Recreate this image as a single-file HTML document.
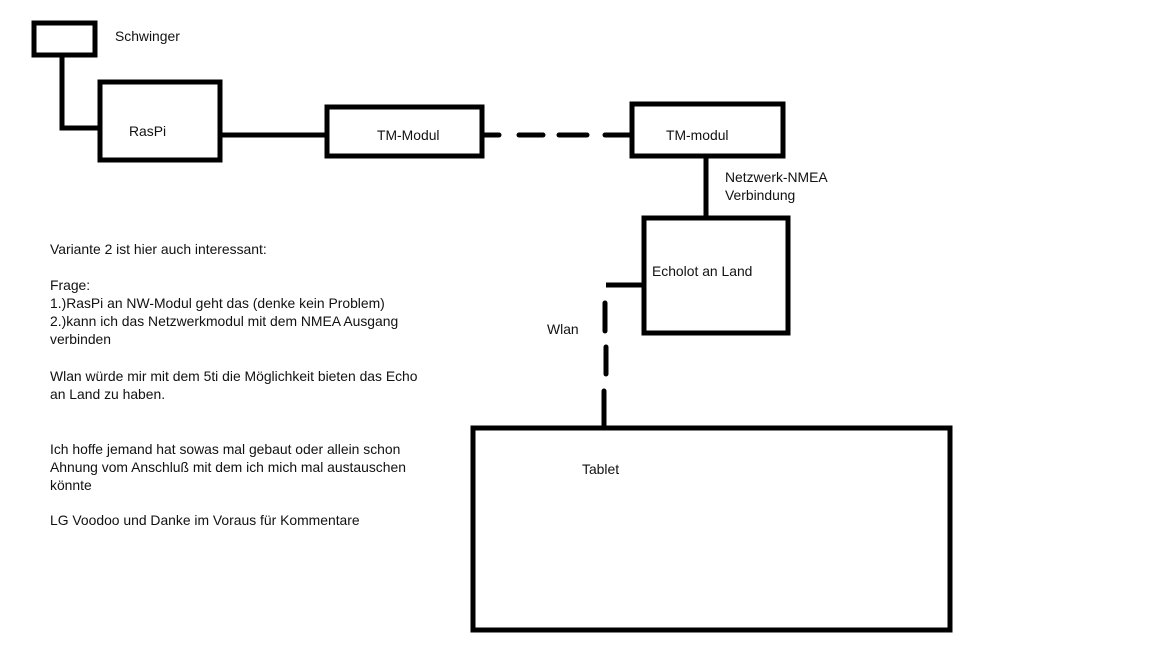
<!DOCTYPE html>
<html><head><meta charset="utf-8"><style>
html,body{margin:0;padding:0;background:#fff;}
body{width:1152px;height:648px;position:relative;overflow:hidden;font-family:"Liberation Sans",sans-serif;font-size:13.9px;color:#111;}
.t{position:absolute;line-height:18px;white-space:nowrap;}
svg{position:absolute;left:0;top:0;}
</style></head><body>
<svg width="1152" height="648" viewBox="0 0 1152 648">
<g fill="none" stroke="#000" stroke-width="5">
<rect x="34" y="23" width="61" height="32"/>
<rect x="100" y="82" width="120" height="78"/>
<rect x="327" y="107" width="155" height="49"/>
<rect x="632" y="104" width="151" height="52"/>
<rect x="644" y="218" width="144" height="115"/>
<rect x="473" y="428" width="477" height="202"/>
<polyline points="62,55 62,128 100,128"/>
<line x1="218" y1="135" x2="327" y2="135"/>
<line x1="706" y1="156" x2="706" y2="220"/>
<line x1="606" y1="285" x2="644" y2="285"/>
</g>
<g stroke="#000" stroke-width="5" stroke-linecap="round">
<line x1="484" y1="135" x2="499" y2="135"/>
<line x1="519" y1="135" x2="543" y2="135"/>
<line x1="559" y1="135" x2="587" y2="135"/>
<line x1="605" y1="135" x2="630" y2="135"/>
<line x1="605" y1="303" x2="605" y2="331"/>
<line x1="606" y1="347" x2="606" y2="374"/>
<line x1="604" y1="391" x2="604" y2="428"/>
</g>
</svg>
<div class="t" style="left:115px;top:27px">Schwinger</div>
<div class="t" style="left:129px;top:122px">RasPi</div>
<div class="t" style="left:377px;top:126px">TM-Modul</div>
<div class="t" style="left:666px;top:126px">TM-modul</div>
<div class="t" style="left:725px;top:168px">Netzwerk-NMEA<br>Verbindung</div>
<div class="t" style="left:652px;top:262px">Echolot an Land</div>
<div class="t" style="left:547px;top:320px">Wlan</div>
<div class="t" style="left:582px;top:460px">Tablet</div>
<div class="t" style="left:50px;top:240px">Variante 2 ist hier auch interessant:</div>
<div class="t" style="left:50px;top:276px">Frage:<br>1.)RasPi an NW-Modul geht das (denke kein Problem)<br>2.)kann ich das Netzwerkmodul mit dem NMEA Ausgang<br>verbinden</div>
<div class="t" style="left:50px;top:367px">Wlan würde mir mit dem 5ti die Möglichkeit bieten das Echo<br>an Land zu haben.</div>
<div class="t" style="left:50px;top:440px">Ich hoffe jemand hat sowas mal gebaut oder allein schon<br>Ahnung vom Anschluß mit dem ich mich mal austauschen<br>könnte</div>
<div class="t" style="left:50px;top:511px">LG Voodoo und Danke im Voraus für Kommentare</div>
</body></html>
